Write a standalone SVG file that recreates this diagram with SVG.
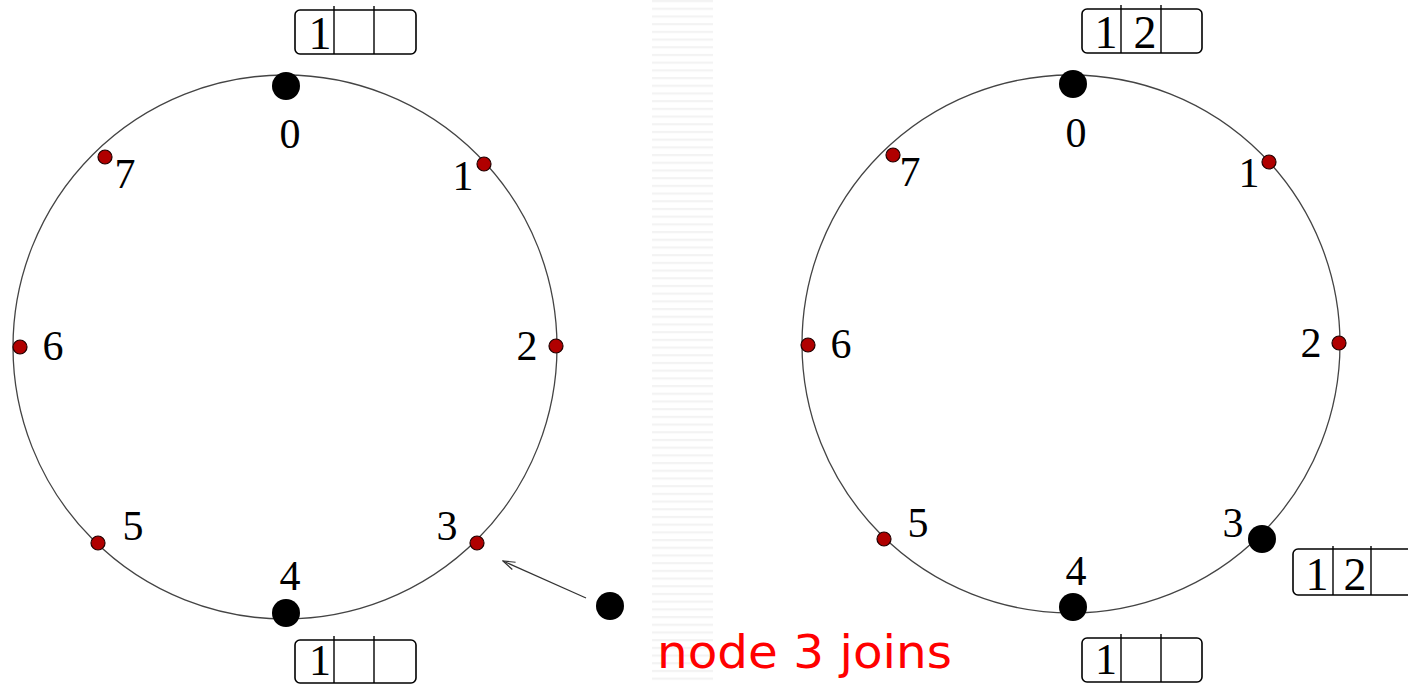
<svg xmlns="http://www.w3.org/2000/svg" width="1408" height="685" viewBox="0 0 1408 685">
<defs>
<style>
.ring{fill:none;stroke:#444;stroke-width:1.3}
.red{fill:#b00000;stroke:#200000;stroke-width:1.2}
.blk{fill:#000}
.lbl{font-family:"Liberation Serif",serif;font-size:42px;fill:#000;text-anchor:middle}
.cell{font-family:"Liberation Serif",serif;font-size:46px;fill:#000;text-anchor:middle}
.cellb{font-family:"Liberation Serif",serif;font-size:44px;fill:#000;text-anchor:middle}
.box{fill:#fff;stroke:#000;stroke-width:1.6}
.div{stroke:#000;stroke-width:1.4}
.cap{font-family:"DejaVu Sans",sans-serif;font-size:46px;fill:#ff0000}
</style>
<pattern id="stripes" width="61" height="7.7" patternUnits="userSpaceOnUse">
<rect x="0" y="0" width="61" height="2.2" fill="#f3f3f3"/>
</pattern>
<marker id="open" markerWidth="14" markerHeight="10" refX="13" refY="5" orient="auto" markerUnits="userSpaceOnUse">
<path d="M1,1 L13,5 L1,9" fill="none" stroke="#333" stroke-width="1.2"/>
</marker>
</defs>
<rect width="1408" height="685" fill="#fff"/>
<rect x="652" y="0" width="61" height="685" fill="url(#stripes)"/>

<g id="left-ring">
<circle class="ring" cx="285" cy="347" r="272"/>
</g>
<g id="right-ring">
<circle class="ring" cx="1071" cy="344" r="269"/>
</g>

<g id="connectors">
<line x1="586" y1="598" x2="503" y2="561" stroke="#333" stroke-width="1.2" marker-end="url(#open)"/>
</g>

<g id="L0"><circle class="blk" cx="286" cy="86" r="14"/><text class="lbl" x="290" y="148">0</text></g>
<g id="L1"><circle class="red" cx="484" cy="164" r="7"/><text class="lbl" x="463" y="190">1</text></g>
<g id="L2"><circle class="red" cx="556" cy="346" r="7"/><text class="lbl" x="527" y="360">2</text></g>
<g id="L3"><circle class="red" cx="477" cy="543" r="7"/><text class="lbl" x="447" y="540">3</text></g>
<g id="L4"><circle class="blk" cx="286" cy="613" r="14"/><text class="lbl" x="290" y="590">4</text></g>
<g id="L5"><circle class="red" cx="98" cy="543" r="7"/><text class="lbl" x="133" y="540">5</text></g>
<g id="L6"><circle class="red" cx="20" cy="347" r="7"/><text class="lbl" x="53" y="360">6</text></g>
<g id="L7"><circle class="red" cx="105" cy="157" r="7"/><text class="lbl" x="125" y="188">7</text></g>
<g id="joining"><circle class="blk" cx="610" cy="606" r="14"/></g>

<g id="L0-table">
<rect class="box" x="295" y="10" width="121" height="44" rx="5"/>
<line class="div" x1="334" y1="6" x2="334" y2="54"/><line class="div" x1="374" y1="6" x2="374" y2="54"/>
<text class="cell" x="320" y="49">1</text>
</g>
<g id="L4-table">
<rect class="box" x="295" y="640" width="121" height="43" rx="5"/>
<line class="div" x1="334" y1="636" x2="334" y2="683"/><line class="div" x1="374" y1="636" x2="374" y2="683"/>
<text class="cellb" x="320" y="675">1</text>
</g>

<g id="R0"><circle class="blk" cx="1073" cy="84" r="14"/><text class="lbl" x="1076" y="147">0</text></g>
<g id="R1"><circle class="red" cx="1269" cy="162" r="7"/><text class="lbl" x="1249" y="187">1</text></g>
<g id="R2"><circle class="red" cx="1339" cy="343" r="7"/><text class="lbl" x="1311" y="357">2</text></g>
<g id="R3"><circle class="blk" cx="1262" cy="539" r="14"/><text class="lbl" x="1233" y="537">3</text></g>
<g id="R4"><circle class="blk" cx="1073" cy="607" r="14"/><text class="lbl" x="1076" y="585">4</text></g>
<g id="R5"><circle class="red" cx="884" cy="539" r="7"/><text class="lbl" x="918" y="537">5</text></g>
<g id="R6"><circle class="red" cx="808" cy="345" r="7"/><text class="lbl" x="841" y="358">6</text></g>
<g id="R7"><circle class="red" cx="893" cy="155" r="7"/><text class="lbl" x="910" y="186">7</text></g>

<g id="R0-table">
<rect class="box" x="1082" y="9" width="120" height="44" rx="5"/>
<line class="div" x1="1121" y1="5" x2="1121" y2="53"/><line class="div" x1="1161" y1="5" x2="1161" y2="53"/>
<text class="cell" x="1106" y="48">1</text><text class="cell" x="1145" y="48">2</text>
</g>
<g id="R3-table">
<rect class="box" x="1293" y="549" width="130" height="46" rx="5"/>
<line class="div" x1="1333" y1="546" x2="1333" y2="595"/><line class="div" x1="1371" y1="546" x2="1371" y2="595"/>
<text class="cell" x="1317" y="590">1</text><text class="cell" x="1355" y="590">2</text>
</g>
<g id="R4-table">
<rect class="box" x="1082" y="638" width="120" height="44" rx="5"/>
<line class="div" x1="1121" y1="634" x2="1121" y2="682"/><line class="div" x1="1161" y1="634" x2="1161" y2="682"/>
<text class="cellb" x="1106" y="674">1</text>
</g>

<g id="caption"><text class="cap" x="657" y="668" textLength="295" lengthAdjust="spacingAndGlyphs">node 3 joins</text></g>
</svg>
